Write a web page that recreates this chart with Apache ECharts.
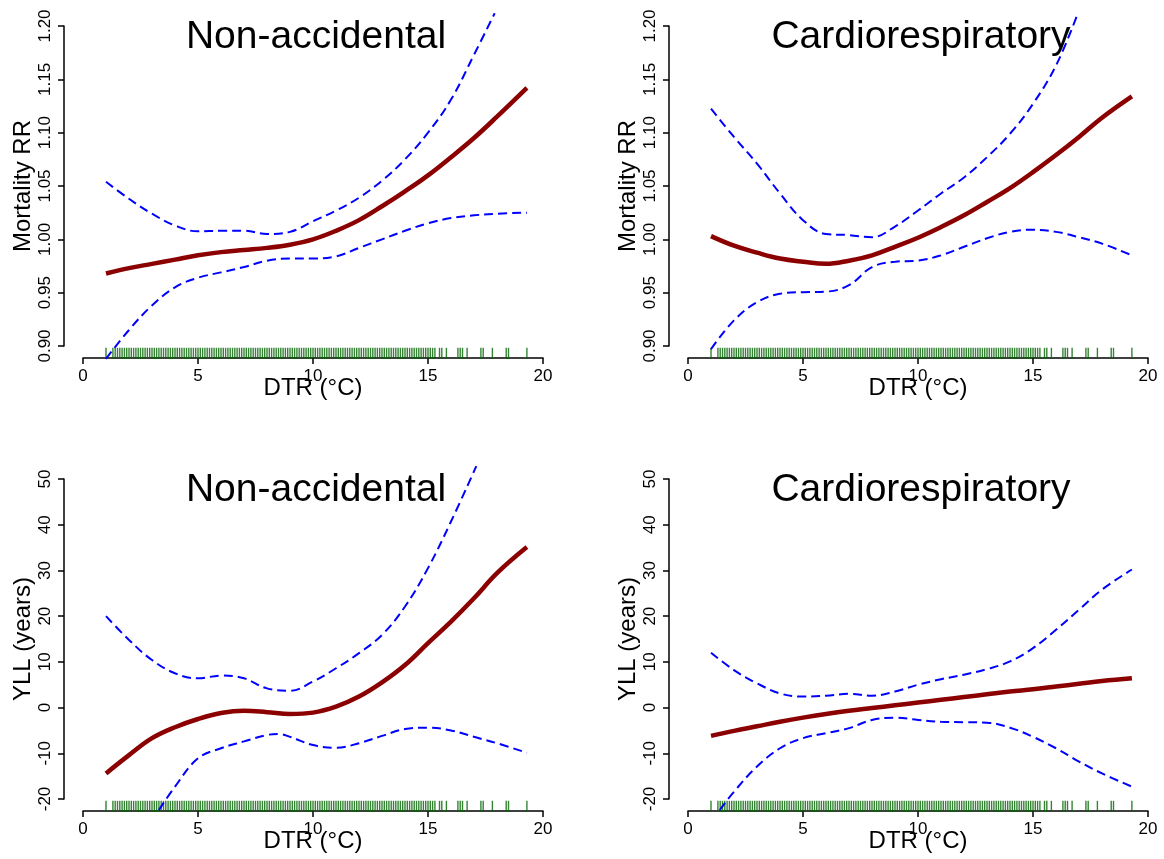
<!DOCTYPE html>
<html>
<head>
<meta charset="utf-8">
<script src="https://cdn.jsdelivr.net/npm/echarts@6/dist/echarts.min.js"></script>
<style>
  html, body { margin: 0; padding: 0; background: #fff; }
  #con { width: 1164px; height: 859px; }
</style>
</head>
<body>
<div id="con"></div>
<script>
// DTR positions used for the curves
var dtr = [1, 2, 3, 4, 5, 6, 7, 8, 9, 10, 11, 12, 13, 14, 15, 16, 17, 18, 19.3];

// top left: Non-accidental, mortality RR
var rrNonFit = [0.968, 0.973, 0.977, 0.981, 0.985, 0.988, 0.990, 0.992, 0.995, 1.000, 1.008, 1.018, 1.031, 1.045, 1.060, 1.077, 1.095, 1.115, 1.142];
var rrNonUpX = [1, 2, 3, 4, 5, 6, 7, 8, 9, 10, 11, 12, 13, 14, 15, 16, 17, 17.9];
var rrNonUp = [1.054, 1.038, 1.024, 1.013, 1.0075, 1.008, 1.008, 1.005, 1.007, 1.017, 1.027, 1.039, 1.055, 1.075, 1.100, 1.131, 1.173, 1.212];
var rrNonLo = [0.888, 0.915, 0.938, 0.955, 0.964, 0.969, 0.974, 0.980, 0.982, 0.982, 0.984, 0.992, 1.000, 1.008, 1.015, 1.020, 1.0225, 1.024, 1.025];

// top right: Cardiorespiratory, mortality RR
var rrCarFit = [1.003, 0.994, 0.9875, 0.982, 0.979, 0.977, 0.980, 0.985, 0.993, 1.0015, 1.0115, 1.0225, 1.035, 1.048, 1.063, 1.079, 1.096, 1.114, 1.134];
var rrCarUpX = [1, 2, 3, 4, 5, 6, 7, 8, 9, 10, 11, 12, 13, 14, 15, 16, 16.9];
var rrCarUp = [1.1225, 1.096, 1.071, 1.043, 1.018, 1.005, 1.004, 1.002, 1.012, 1.027, 1.043, 1.058, 1.077, 1.099, 1.127, 1.163, 1.209];
var rrCarLo = [0.897, 0.924, 0.941, 0.949, 0.9505, 0.951, 0.957, 0.974, 0.979, 0.980, 0.985, 0.993, 1.001, 1.007, 1.009, 1.007, 1.002, 0.996, 0.985];

// bottom left: Non-accidental, YLL
var yllNonFit = [-14.4, -10.4, -6.7, -4.3, -2.5, -1.2, -0.7, -1.0, -1.4, -1.1, 0.2, 2.4, 5.5, 9.3, 14.1, 18.8, 23.9, 29.4, 35.1];
var yllNonUpX = [1, 2, 3, 4, 5, 6, 7, 8, 9, 10, 11, 12, 13, 14, 15, 16, 17.1];
var yllNonUp = [20.0, 14.8, 10.4, 7.5, 6.4, 7.0, 6.4, 4.2, 3.7, 5.7, 8.6, 11.9, 15.9, 22.1, 30.5, 40.7, 52.8];
var yllNonLoX = [3.3, 4, 5, 6, 7, 8, 8.5, 9, 10, 11, 12, 13, 14, 15, 16, 17, 18, 19.3];
var yllNonLo = [-22.4, -17.3, -11.1, -8.9, -7.4, -6.0, -5.8, -6.4, -8.2, -8.8, -7.8, -6.2, -4.7, -4.4, -5.0, -6.4, -7.8, -9.9];

// bottom right: Cardiorespiratory, YLL
var yllCarFit = [-6.2, -5.1, -4.1, -3.1, -2.2, -1.4, -0.7, -0.1, 0.5, 1.1, 1.7, 2.3, 2.9, 3.5, 4.0, 4.6, 5.2, 5.8, 6.4];
var yllCarUpX = [1, 2, 3, 4, 5, 6, 7, 8, 9, 10, 11, 12, 13, 14, 15, 16, 17, 18, 19.3];
var yllCarUp = [12.0, 8.2, 5.3, 3.1, 2.4, 2.6, 3.0, 2.6, 3.5, 5.0, 6.2, 7.2, 8.4, 10.1, 13.0, 17.0, 21.4, 25.8, 30.2];
var yllCarLoX = [1.38, 2, 3, 4, 5, 6, 7, 8, 9, 10, 11, 12, 13, 14, 15, 16, 17, 18, 19.3];
var yllCarLo = [-22.4, -18.4, -12.9, -8.9, -6.7, -5.6, -4.5, -2.7, -2.2, -2.7, -3.1, -3.2, -3.3, -4.4, -6.4, -8.9, -11.8, -14.4, -17.3];

// observed DTR values (rug)
var rug = [1.0,
  1.3, 1.4, 1.5, 1.6, 1.7, 1.8, 1.9, 2.0, 2.1, 2.2, 2.3, 2.4, 2.5, 2.6, 2.7, 2.8, 2.9, 3.0,
  3.1, 3.2, 3.3, 3.4, 3.5, 3.6, 3.7, 3.8, 3.9, 4.0, 4.1, 4.2, 4.3, 4.4, 4.5, 4.6, 4.7, 4.8,
  4.9, 5.0, 5.1, 5.2, 5.3, 5.4, 5.5, 5.6, 5.7, 5.8, 5.9, 6.0, 6.1, 6.2, 6.3, 6.4, 6.5, 6.6,
  6.7, 6.8, 6.9, 7.0, 7.1, 7.2, 7.3, 7.4, 7.5, 7.6, 7.7, 7.8, 7.9, 8.0, 8.1, 8.2, 8.3, 8.4,
  8.5, 8.6, 8.7, 8.8, 8.9, 9.0, 9.1, 9.2, 9.3, 9.4, 9.5, 9.6, 9.7, 9.8, 9.9, 10.0, 10.1, 10.2,
  10.3, 10.4, 10.5, 10.6, 10.7, 10.8, 10.9, 11.0, 11.1, 11.2, 11.3, 11.4, 11.5, 11.6, 11.7,
  11.8, 11.9, 12.0, 12.1, 12.2, 12.3, 12.4, 12.5, 12.6, 12.7, 12.8, 12.9, 13.0, 13.1, 13.2,
  13.3, 13.4, 13.5, 13.6, 13.7, 13.8, 13.9, 14.0, 14.1, 14.2, 14.3, 14.4, 14.5, 14.6, 14.7,
  14.8, 14.9, 15.0, 15.1, 15.2, 15.3, 15.5, 15.6, 15.8,
  16.3, 16.4, 16.5, 16.7, 17.3, 17.4, 17.8, 18.4, 18.5, 19.3];

var titles = ['Non-accidental', 'Cardiorespiratory', 'Non-accidental', 'Cardiorespiratory'];
var yNames = ['Mortality RR', 'Mortality RR', 'YLL (years)', 'YLL (years)'];
var yMin = [0.9, 0.9, -20, -20];
var yMax = [1.2, 1.2, 50, 50];
var yStep = [0.05, 0.05, 10, 10];
var yDigits = [2, 2, 0, 0];
var rugBase = [0.888, 0.888, -22.8, -22.8];

var font = 'Liberation Sans, Arial, sans-serif';
var gridLeft = [83, 688, 83, 688];
var gridTop = [26, 26, 479, 479];

function zip(xs, ys) {
    var out = [];
    for (var i = 0; i < ys.length; i++) out.push([xs[i], ys[i]]);
    return out;
}

var panels = [
    { fit: zip(dtr, rrNonFit), up: zip(rrNonUpX, rrNonUp), lo: zip(dtr, rrNonLo) },
    { fit: zip(dtr, rrCarFit), up: zip(rrCarUpX, rrCarUp), lo: zip(dtr, rrCarLo) },
    { fit: zip(dtr, yllNonFit), up: zip(yllNonUpX, yllNonUp), lo: zip(yllNonLoX, yllNonLo) },
    { fit: zip(dtr, yllCarFit), up: zip(yllCarUpX, yllCarUp), lo: zip(yllCarLoX, yllCarLo) }
];

var grids = [], xAxes = [], yAxes = [], series = [], titleList = [];
for (var i = 0; i < 4; i++) {
    grids.push({ left: gridLeft[i], top: gridTop[i], width: 460, height: 320 });
    titleList.push({
        text: titles[i], left: gridLeft[i] + 228, top: gridTop[i] - 13, textAlign: 'center',
        textStyle: { fontFamily: font, fontSize: 39, fontWeight: 'normal', color: '#000' }
    });
    xAxes.push({
        gridIndex: i, type: 'value', min: 0, max: 20, interval: 5, offset: 12,
        name: 'DTR (°C)', nameLocation: 'middle', nameGap: 18, nameMoveOverlap: false,
        nameTextStyle: { fontFamily: font, fontSize: 24, color: '#000' },
        axisLine: { show: true, onZero: false, lineStyle: { color: '#000', width: 1.5 } },
        axisTick: { show: true, length: 6, lineStyle: { color: '#000', width: 1.5 } },
        axisLabel: { fontFamily: font, fontSize: 17, color: '#000', margin: 10 },
        splitLine: { show: false }
    });
    (function (d) {
        yAxes.push({
            gridIndex: i, type: 'value', min: yMin[i], max: yMax[i], interval: yStep[i], offset: 19,
            name: yNames[i], nameLocation: 'middle', nameGap: 29, nameMoveOverlap: false,
            nameTextStyle: { fontFamily: font, fontSize: 24, color: '#000' },
            axisLine: { show: true, onZero: false, lineStyle: { color: '#000', width: 1.5 } },
            axisTick: { show: true, length: 6, lineStyle: { color: '#000', width: 1.5 } },
            axisLabel: {
                fontFamily: font, fontSize: 17, color: '#000', rotate: 90, margin: 10,
                formatter: function (v) { return v.toFixed(d); }
            },
            splitLine: { show: false }
        });
    })(yDigits[i]);

    series.push({
        type: 'scatter', xAxisIndex: i, yAxisIndex: i, clip: false, silent: true,
        symbol: 'rect', symbolSize: [1.4, 11], symbolOffset: [0, -5.5],
        itemStyle: { color: '#006400' },
        data: rug.map(function (v) { return [v, rugBase[i]]; })
    });
    series.push({
        type: 'line', xAxisIndex: i, yAxisIndex: i, clip: false, smooth: 0.4, symbol: 'none',
        lineStyle: { color: '#0000ff', width: 2, type: [9, 5] }, data: panels[i].up
    });
    series.push({
        type: 'line', xAxisIndex: i, yAxisIndex: i, clip: false, smooth: 0.4, symbol: 'none',
        lineStyle: { color: '#0000ff', width: 2, type: [9, 5] }, data: panels[i].lo
    });
    series.push({
        type: 'line', xAxisIndex: i, yAxisIndex: i, clip: false, smooth: 0.4, symbol: 'none',
        lineStyle: { color: '#8b0000', width: 4.5 }, data: panels[i].fit
    });
}

var myChart = echarts.init(document.getElementById('con'));
myChart.setOption({
    animation: false,
    backgroundColor: '#fff',
    title: titleList,
    grid: grids,
    xAxis: xAxes,
    yAxis: yAxes,
    series: series
});
</script>
</body>
</html>
